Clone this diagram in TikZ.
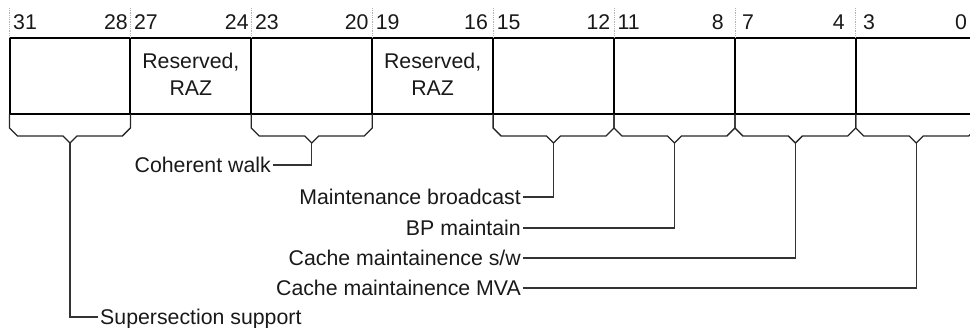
\documentclass[tikz,border=0pt]{standalone}
\usepackage{fontspec}
\setmainfont{Liberation Sans}
\usetikzlibrary{calc}
\begin{document}
\begin{tikzpicture}[x=1pt,y=-1pt,
  field/.style={draw=black, line width=2pt, minimum width=120.9pt, minimum height=76pt, inner sep=0pt, outer sep=0pt},
  tickline/.style={draw=black!30, densely dotted, line width=0.8pt},
  bitnum/.style={font=\fontsize{21.3}{24}\selectfont, inner sep=0pt, text=black!90},
  restext/.style={font=\fontsize{21.3}{27}\selectfont, align=center, inner sep=0pt, text=black!90},
  lbl/.style={font=\fontsize{21.3}{24}\selectfont, inner sep=2pt, text height=15.3pt, text depth=0pt, text=black!90},
  bracel/.style={draw=black!85, line width=1.3pt, line join=miter},
  leader/.style={draw=black!80, line width=1.3pt}]
\useasboundingbox (0,0) rectangle (970,328);
\clip (0,0) rectangle (970,328);
% fields and bit numbers
\foreach \i/\hi/\lo/\dl/\dr in {0/31/28/3.5/-2.5,1/27/24/3.5/-2.5,2/23/20/3.5/-3.5,3/19/16/3.5/-5,4/15/12/3.5/-3.5,5/11/8/3.5/-11,6/7/4/7/-11,7/3/0/7/-9.5}{
  \node[field] (f\hi) at ({9.5+120.9*\i+60.45},76) {};
  \draw[tickline] ($(f\hi.north west)+(0,-30)$) -- (f\hi.north west);
  \node[bitnum, anchor=base west] (n\hi) at ($(f\hi.north west)+(\dl,-8)$) {\hi};
  \node[bitnum, anchor=base east] (n\lo) at ($(f\hi.north east)+(\dr,-8)$) {\lo};
}
\node[restext] (t27) at ($(f27.center)+(0,-2)$) {Reserved,\\RAZ};
\node[restext] (t19) at ($(f19.center)+(0,-2)$) {Reserved,\\RAZ};
% braces
\foreach \hi in {31,23,15,11,7,3}{
  \draw[bracel] (f\hi.south west) -- ++(0,14) -- ++(8,8)
    -- ($(f\hi.south)+(-7,22)$) -- ++(7,7) coordinate (b\hi) -- ++(7,-7)
    -- ($(f\hi.south east)+(-8,22)$) -- ++(8,-8) -- (f\hi.south east);
}
% labels
\node[lbl, anchor=east] (coh) at (273,165) {Coherent walk};
\node[lbl, anchor=east] (mb) at (523,197) {Maintenance broadcast};
\node[lbl, anchor=east] (bp) at (523,228) {BP maintain};
\node[lbl, anchor=east] (csw) at (523,258) {Cache maintainence s/w};
\node[lbl, anchor=east] (cmva) at (523,288) {Cache maintainence MVA};
\node[lbl, anchor=west] (sup) at (98,317) {Supersection support};
% leaders
\draw[leader] (b23) |- (coh.east);
\draw[leader] (b15) |- (mb.east);
\draw[leader] (b11) |- (bp.east);
\draw[leader] (b7) |- (csw.east);
\draw[leader] (b3) |- (cmva.east);
\draw[leader] (b31) |- (sup.west);
\end{tikzpicture}
\end{document}
